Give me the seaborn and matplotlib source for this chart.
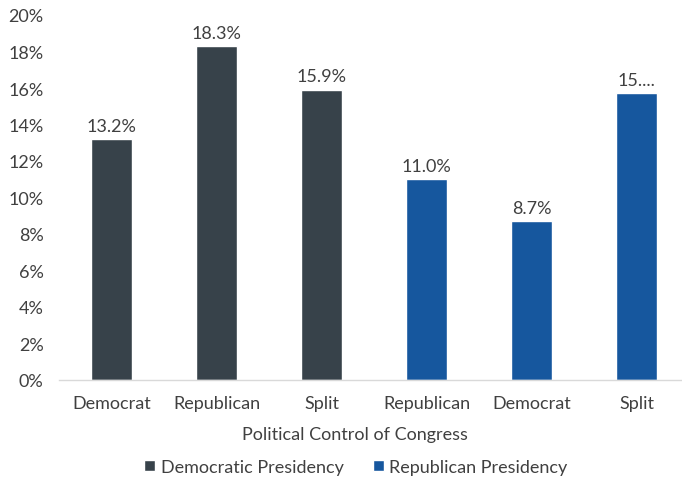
import matplotlib
matplotlib.use("Agg")
import matplotlib.pyplot as plt
import seaborn as sns
import pandas as pd

categories = ["Democrat", "Republican", "Split", "Republican", "Democrat", "Split"]
values = [13.2, 18.3, 15.9, 11.0, 8.7, 15.7]
labels = ["13.2%", "18.3%", "15.9%", "11.0%", "8.7%", "15...."]
groups = ["Democratic Presidency"] * 3 + ["Republican Presidency"] * 3
yticks = [0, 2, 4, 6, 8, 10, 12, 14, 16, 18, 20]

sns.set_theme(style="white")
plt.rcParams["font.family"] = ["Lato", "DejaVu Sans"]
text_color = "#404040"
fs = 13

df = pd.DataFrame({"pos": [str(i) for i in range(len(values))],
                   "value": values, "group": groups})

fig = plt.figure(figsize=(6.82, 4.81), dpi=100)
ax = fig.add_axes([59 / 682, 100 / 481, 630 / 682, 365 / 481])
palette = {"Democratic Presidency": "#37424a", "Republican Presidency": "#16579e"}
sns.barplot(data=df, x="pos", y="value", hue="group", palette=palette,
            dodge=False, width=0.39, ax=ax, saturation=1)

for i, (v, lab) in enumerate(zip(values, labels)):
    ax.text(i, v + 0.3, lab, ha="center", va="bottom", fontsize=fs, color=text_color)

ax.set_ylim(0, 20)
ax.set_yticks(yticks)
ax.set_yticklabels([f"{t}%" for t in yticks])
ax.set_xticks(range(len(categories)))
ax.set_xticklabels(categories)
ax.tick_params(axis="both", labelsize=fs, colors=text_color, length=0)
ax.tick_params(axis="x", pad=11)
ax.tick_params(axis="y", pad=11)
ax.set_xlabel("Political Control of Congress", fontsize=fs, color=text_color, labelpad=11)
ax.xaxis.set_label_coords((355 - 59) / 630, -0.125)
ax.set_ylabel("")
for s in ["top", "right", "left"]:
    ax.spines[s].set_visible(False)
ax.spines["bottom"].set_color("#d9d9d9")
ax.spines["bottom"].set_linewidth(1)
ax.set_xlim(-0.5, 5.5)

handles, hlabels = ax.get_legend_handles_labels()
ax.legend_.remove()
fig.legend(handles, hlabels, loc="center", bbox_to_anchor=(356 / 682, 1 - 468 / 481),
           ncol=2, frameon=False, fontsize=fs, handlelength=0.6, handleheight=0.6,
           handletextpad=0.3, columnspacing=1.65, labelcolor=text_color)

fig.savefig("out.png", dpi=100)
